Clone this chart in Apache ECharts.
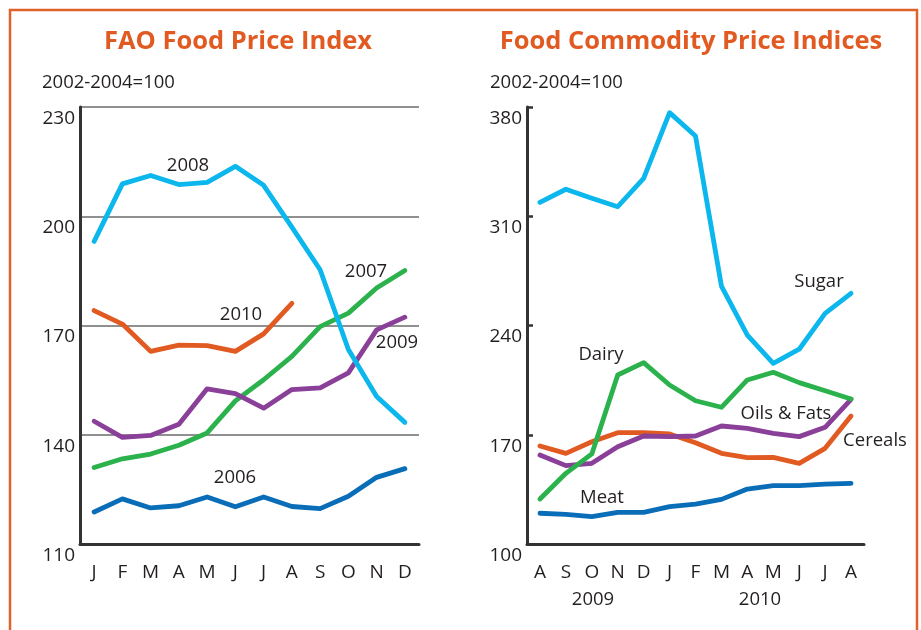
<!DOCTYPE html>
<html>
<head>
<meta charset="utf-8">
<title>FAO Food Price Index</title>
<script src="https://cdn.jsdelivr.net/npm/echarts@6/dist/echarts.min.js"></script>
<style>
  html, body { margin: 0; padding: 0; background: #fff; }
  #main { width: 921px; height: 630px; }
</style>
</head>
<body>
<div id="main"></div>
<script>
// left panel: FAO Food Price Index by year
var months = ['J', 'F', 'M', 'A', 'M', 'J', 'J', 'A', 'S', 'O', 'N', 'D'];
var y2006 = [118.8, 122.4, 119.9, 120.5, 122.9, 120.2, 122.9, 120.3, 119.7, 123.1, 128.3, 130.7];
var y2007 = [131.0, 133.4, 134.7, 137.1, 140.5, 149.3, 155.1, 161.5, 169.7, 173.4, 180.3, 185.1];
var y2008 = [193.1, 208.9, 211.2, 208.7, 209.3, 213.7, 208.5, 197.0, 185.3, 163.4, 150.5, 143.4];
var y2009 = [143.7, 139.3, 139.8, 142.9, 152.6, 151.3, 147.3, 152.4, 152.9, 157.0, 168.8, 172.3];
var y2010 = [174.1, 170.4, 162.9, 164.6, 164.5, 162.9, 167.7, 176.1];

// right panel: commodity indices Aug 2009 - Aug 2010
var commodityMonths = ['A', 'S', 'O', 'N', 'D', 'J', 'F', 'M', 'A', 'M', 'J', 'J', 'A'];
var sugar = [318.9, 327.3, 321.5, 316.1, 334.3, 376.4, 361.4, 265.3, 233.9, 215.8, 224.8, 247.8, 260.6];
var dairy = [128.8, 145.3, 157.7, 208.3, 216.2, 201.9, 191.8, 187.6, 205.1, 210.0, 203.4, 198.2, 192.9];
var oilsFats = [157.0, 150.2, 151.7, 162.3, 169.2, 168.8, 169.2, 175.6, 174.1, 170.9, 168.8, 174.8, 192.7];
var cereals = [162.8, 158.1, 165.5, 171.3, 171.3, 170.5, 164.9, 158.1, 155.3, 155.5, 151.7, 161.3, 182.0];
var meat = [119.7, 119.0, 117.5, 120.3, 120.3, 123.9, 125.6, 128.6, 135.2, 137.4, 137.4, 138.3, 138.9];

var CYAN = '#0BB7EC';
var GREEN = '#2BB24C';
var ORANGE = '#E05A22';
var PURPLE = '#8A3F98';
var BLUE = '#0A6DB7';
var INK = '#231F20';
var FONT = '"Open Sans", "Noto Sans", sans-serif';

var chart = echarts.init(document.getElementById('main'), null, { renderer: 'canvas' });

function lineSeries(name, data, color, idx) {
    return {
        name: name,
        type: 'line',
        xAxisIndex: idx,
        yAxisIndex: idx,
        data: data,
        symbol: 'none',
        smooth: false,
        silent: true,
        lineStyle: { color: color, width: 4.8, cap: 'round', join: 'round' }
    };
}

var tickLabel = { color: INK, fontSize: 19, fontFamily: FONT };

var option = {
    animation: false,
    grid: [
        { left: 80, right: 502, top: 107, bottom: 86 },
        { left: 527, right: 57, top: 107, bottom: 86 }
    ],
    xAxis: [
        {
            type: 'category', gridIndex: 0, data: months, boundaryGap: true,
            axisLine: { lineStyle: { color: '#333', width: 3 } },
            axisTick: { inside: true, alignWithLabel: true, length: 10, lineStyle: { color: '#333', width: 2.5 } },
            axisLabel: Object.assign({ margin: 19, interval: 0 }, tickLabel)
        },
        {
            type: 'category', gridIndex: 1, data: commodityMonths, boundaryGap: true,
            axisLine: { lineStyle: { color: '#333', width: 3 } },
            axisTick: { inside: true, alignWithLabel: true, length: 10, lineStyle: { color: '#333', width: 2.5 } },
            axisLabel: Object.assign({ margin: 19, interval: 0 }, tickLabel)
        }
    ],
    yAxis: [
        {
            type: 'value', gridIndex: 0, min: 110, max: 230, interval: 30,
            axisLine: { show: true, lineStyle: { color: '#333', width: 3 } },
            axisTick: { show: false },
            splitLine: { show: true, lineStyle: { color: '#6b6b6b', width: 1.5 } },
            axisLabel: Object.assign({ margin: 5, verticalAlign: 'top', padding: [2, 0, 0, 0] }, tickLabel)
        },
        {
            type: 'value', gridIndex: 1, min: 100, max: 380, interval: 70,
            axisLine: { show: true, lineStyle: { color: '#333', width: 3 } },
            axisTick: { show: true, inside: true, length: 6, lineStyle: { color: '#333', width: 2.5 } },
            splitLine: { show: false },
            axisLabel: Object.assign({ margin: 5, verticalAlign: 'top', padding: [2, 0, 0, 0] }, tickLabel)
        }
    ],
    series: [
        lineSeries('2006', y2006, BLUE, 0),
        lineSeries('2007', y2007, GREEN, 0),
        lineSeries('2009', y2009, PURPLE, 0),
        lineSeries('2010', y2010, ORANGE, 0),
        lineSeries('2008', y2008, CYAN, 0),
        lineSeries('Meat', meat, BLUE, 1),
        lineSeries('Cereals', cereals, ORANGE, 1),
        lineSeries('Oils & Fats', oilsFats, PURPLE, 1),
        lineSeries('Dairy', dairy, GREEN, 1),
        lineSeries('Sugar', sugar, CYAN, 1)
    ]
};

// frame, titles, units, series names and year captions
var graphics = [
    {
        type: 'rect', silent: true, z: -1,
        shape: { x: 10, y: 10, width: 907, height: 640 },
        style: { fill: 'none', stroke: '#E0622B', lineWidth: 2.5 }
    },
    {
        type: 'text', silent: true,
        style: { x: 238, y: 42, text: 'FAO Food Price Index', fill: '#E05A22',
                 font: 'bold 25.5px ' + FONT, textAlign: 'center', textVerticalAlign: 'middle' }
    },
    {
        type: 'text', silent: true,
        style: { x: 691, y: 42, text: 'Food Commodity Price Indices', fill: '#E05A22',
                 font: 'bold 25.5px ' + FONT, textAlign: 'center', textVerticalAlign: 'middle' }
    },
    { type: 'text', silent: true, style: { x: 42, y: 83, text: '2002-2004=100', fill: INK, font: '18.5px ' + FONT, textVerticalAlign: 'middle' } },
    { type: 'text', silent: true, style: { x: 490, y: 83, text: '2002-2004=100', fill: INK, font: '18.5px ' + FONT, textVerticalAlign: 'middle' } }
];

var notes = [
    ['2008', 188, 166], ['2007', 366, 272], ['2010', 241, 315], ['2009', 397, 343], ['2006', 235, 478],
    ['Sugar', 819, 282], ['Dairy', 601, 355], ['Oils & Fats', 786, 414], ['Cereals', 875, 441], ['Meat', 602, 498],
    ['2009', 593, 600], ['2010', 760, 600]
];
notes.forEach(function (n) {
    graphics.push({
        type: 'text', silent: true,
        style: { x: n[1], y: n[2], text: n[0], fill: INK, font: '18.5px ' + FONT, textAlign: 'center', textVerticalAlign: 'middle' }
    });
});
option.graphic = graphics;

chart.setOption(option);
</script>
</body>
</html>
